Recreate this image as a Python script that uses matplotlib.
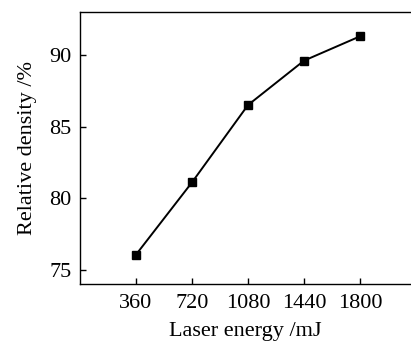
import matplotlib
matplotlib.use("Agg")
import matplotlib.pyplot as plt

# laser energy vs relative density
energy = [360, 720, 1080, 1440, 1800]
density = [76.05, 81.1, 86.5, 89.6, 91.3]
yticks = [75, 80, 85, 90]

plt.rcParams['font.family'] = ['Liberation Serif', 'DejaVu Serif']

fig = plt.figure(figsize=(4.11, 3.44), dpi=100)
ax = fig.add_axes([80/411, 1 - 284/344, 1 - 80/411, (284 - 12)/344])

ax.plot(energy, density, color='black', lw=1.4, marker='s', ms=5.5)

ax.set_xlim(0, 2128)
ax.set_ylim(74, 93)
ax.set_xticks(energy)
ax.set_yticks(yticks)
ax.spines['right'].set_visible(False)
for s in ['left', 'bottom', 'top']:
    ax.spines[s].set_linewidth(1.0)
ax.tick_params(direction='in', length=4, width=1, labelsize=16)
ax.tick_params(axis='x', pad=7)
ax.tick_params(axis='y', pad=6)

ax.set_xlabel('Laser energy /mJ', fontsize=16, labelpad=7)
ax.set_ylabel('Relative density /%', fontsize=16, labelpad=9)

fig.savefig('out.png', dpi=100)
